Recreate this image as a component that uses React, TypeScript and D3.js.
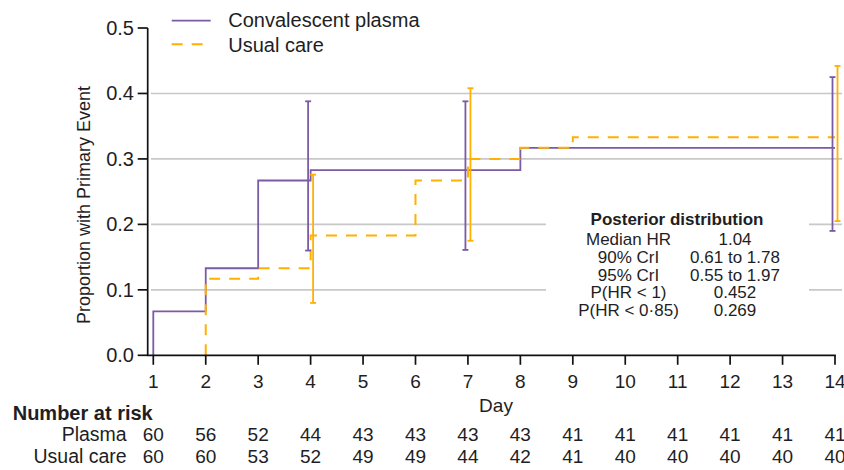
import React from "react";
import * as d3 from "d3";

const days = [1, 2, 3, 4, 5, 6, 7, 8, 9, 10, 11, 12, 13, 14];
const yTicks = [0, 0.1, 0.2, 0.3, 0.4, 0.5];
const gridTicks = [0.1, 0.2, 0.3, 0.4];

// cumulative proportion with primary event (step after)
const plasmaTimes = [1, 1, 2, 3, 4, 8, 14];
const plasmaValues = [0, 0.067, 0.133, 0.267, 0.283, 0.317, 0.317];
const usualTimes = [2, 2, 3, 4, 6, 7, 8, 9, 14];
const usualValues = [0, 0.117, 0.133, 0.183, 0.267, 0.3, 0.317, 0.333, 0.333];

// credible interval bars
const ciDays = [4, 7, 14];
const plasmaLower = [0.16, 0.161, 0.19];
const plasmaUpper = [0.388, 0.388, 0.425];
const usualLower = [0.08, 0.175, 0.205];
const usualUpper = [0.276, 0.408, 0.442];

const plasmaRisk = [60, 56, 52, 44, 43, 43, 43, 43, 41, 41, 41, 41, 41, 41];
const usualRisk = [60, 60, 53, 52, 49, 49, 44, 42, 41, 40, 40, 40, 40, 40];

const postLabels = ["Median HR", "90% CrI", "95% CrI", "P(HR < 1)", "P(HR < 0·85)"];
const postValues = ["1.04", "0.61 to 1.78", "0.55 to 1.97", "0.452", "0.269"];

const PURPLE = "#7b5aa6";
const ORANGE = "#ffb000";
const TEXT = "#1e1e24";
const FONT = "'Liberation Sans', Arial, Helvetica, sans-serif";

export default function App() {
  const x = d3.scaleLinear().domain([1, 14]).range([153.3, 835]);
  const y = d3.scaleLinear().domain([0, 0.5]).range([355.3, 28]);
  const line = d3
    .line<[number, number]>()
    .x((d) => x(d[0]))
    .y((d) => y(d[1]))
    .curve(d3.curveStepAfter);
  const plasmaPath = line(plasmaTimes.map((t, i) => [t, plasmaValues[i]]) as [number, number][]) || "";
  const usualPath = line(usualTimes.map((t, i) => [t, usualValues[i]]) as [number, number][]) || "";

  const axisX0 = 147.7;
  const fmt = d3.format(".1f");

  const errBar = (dx: number, lo: number, hi: number, color: string, key: string) => (
    <g key={key} stroke={color} strokeWidth={1.8}>
      <line x1={dx} x2={dx} y1={y(lo)} y2={y(hi)} />
      <line x1={dx - 3} x2={dx + 3} y1={y(lo)} y2={y(lo)} />
      <line x1={dx - 3} x2={dx + 3} y1={y(hi)} y2={y(hi)} />
    </g>
  );

  return (
    <svg
      width={844}
      height={470}
      style={{ position: "absolute", left: 0, top: 0, background: "#fff" }}
      fontFamily={FONT}
    >
      {/* gridlines */}
      {gridTicks.map((t) => (
        <line key={t} x1={151} x2={842} y1={y(t)} y2={y(t)} stroke="#c8c8c8" strokeWidth={1.6} />
      ))}
      {/* posterior box background */}
      <rect x={546} y={200} width={263} height={125} fill="#fff" />

      {/* series */}
      <path d={plasmaPath} fill="none" stroke={PURPLE} strokeWidth={1.8} />
      <path d={usualPath} fill="none" stroke={ORANGE} strokeWidth={2} strokeDasharray="11,9" />

      {/* error bars */}
      {ciDays.map((d, i) => errBar(x(d) - 2.5, plasmaLower[i], plasmaUpper[i], PURPLE, "p" + i))}
      {ciDays.map((d, i) => errBar(x(d) + 2.5, usualLower[i], usualUpper[i], ORANGE, "u" + i))}

      {/* y axis */}
      <line x1={axisX0} x2={axisX0} y1={y(0.5)} y2={y(0) + 0.8} stroke="#111" strokeWidth={1.7} />
      {yTicks.map((t) => (
        <g key={t}>
          <line x1={axisX0 - 10} x2={axisX0} y1={y(t)} y2={y(t)} stroke="#111" strokeWidth={1.7} />
          <text x={134} y={y(t)} dy="0.35em" textAnchor="end" fontSize={20} fill={TEXT}>
            {fmt(t)}
          </text>
        </g>
      ))}
      <text
        transform={`translate(90,205) rotate(-90)`}
        textAnchor="middle"
        fontSize={18}
        fill={TEXT}
      >
        Proportion with Primary Event
      </text>

      {/* x axis */}
      <line x1={axisX0 - 0.8} x2={x(14) + 0.8} y1={y(0)} y2={y(0)} stroke="#111" strokeWidth={1.7} />
      {days.map((d) => (
        <g key={d}>
          <line x1={x(d)} x2={x(d)} y1={y(0)} y2={y(0) + 9.5} stroke="#111" strokeWidth={1.7} />
          <text x={x(d)} y={388} textAnchor="middle" fontSize={19} fill={TEXT}>
            {d}
          </text>
        </g>
      ))}
      <text x={496} y={412} textAnchor="middle" fontSize={19} fill={TEXT}>
        Day
      </text>

      {/* legend */}
      <line x1={171.7} x2={210.7} y1={20.7} y2={20.7} stroke={PURPLE} strokeWidth={1.8} />
      <line x1={171.7} x2={210.7} y1={44.3} y2={44.3} stroke={ORANGE} strokeWidth={2} strokeDasharray="11,9" />
      <text x={228.3} y={27} fontSize={20} fill={TEXT}>
        Convalescent plasma
      </text>
      <text x={228.3} y={52} fontSize={20} fill={TEXT}>
        Usual care
      </text>

      {/* posterior distribution */}
      <text x={677} y={224.5} textAnchor="middle" fontSize={17} fontWeight="bold" fill={TEXT}>
        Posterior distribution
      </text>
      {postLabels.map((l, i) => (
        <g key={l}>
          <text x={628.5} y={245 + i * 17.8} textAnchor="middle" fontSize={17} fill={TEXT}>
            {l}
          </text>
          <text x={735} y={245 + i * 17.8} textAnchor="middle" fontSize={17} fill={TEXT}>
            {postValues[i]}
          </text>
        </g>
      ))}

      {/* number at risk */}
      <text x={12.7} y={420} fontSize={20} fontWeight="bold" fill={TEXT}>
        Number at risk
      </text>
      <text x={126.7} y={441} textAnchor="end" fontSize={19.5} fill={TEXT}>
        Plasma
      </text>
      <text x={126.7} y={463} textAnchor="end" fontSize={19.5} fill={TEXT}>
        Usual care
      </text>
      {days.map((d, i) => (
        <g key={"r" + d}>
          <text x={x(d)} y={441} textAnchor="middle" fontSize={19} fill={TEXT}>
            {plasmaRisk[i]}
          </text>
          <text x={x(d)} y={463} textAnchor="middle" fontSize={19} fill={TEXT}>
            {usualRisk[i]}
          </text>
        </g>
      ))}
    </svg>
  );
}
